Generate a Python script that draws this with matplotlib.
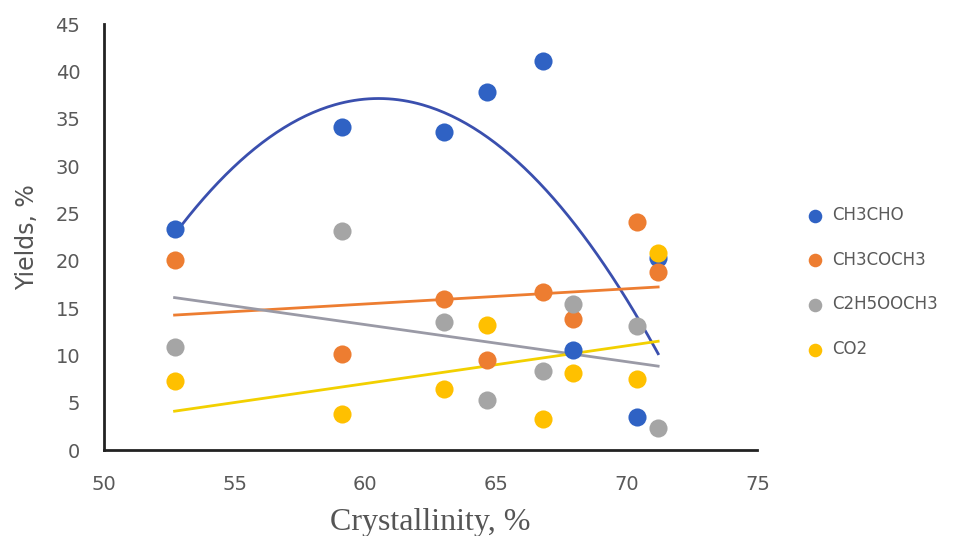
import matplotlib
matplotlib.use("Agg")
import matplotlib.pyplot as plt
import numpy as np

CRYST = [52.7, 59.1, 63.0, 64.65, 66.8, 67.95, 70.4, 71.2]
CH3CHO = [23.4, 34.1, 33.6, 37.8, 41.1, 10.6, 3.5, 20.3]
CH3COCH3 = [20.1, 10.2, 16.0, 9.5, 16.7, 13.9, 24.1, 18.8]
C2H5OOCH3 = [10.9, 23.1, 13.5, 5.3, 8.4, 15.4, 13.1, 2.4]
CO2 = [7.3, 3.8, 6.5, 13.2, 3.3, 8.2, 7.5, 20.8]

SERIES = [
    ("CH3CHO", CH3CHO, "#2f62c4", "#3a4fae", 2),
    ("CH3COCH3", CH3COCH3, "#ed7d31", "#ed7d31", 1),
    ("C2H5OOCH3", C2H5OOCH3, "#a5a5a5", "#9a9aa6", 1),
    ("CO2", CO2, "#ffc000", "#f2d000", 1),
]

fig = plt.figure(figsize=(9.54, 5.36), dpi=100)
ax = fig.add_axes([0.109, 0.160, 0.685, 0.795])

x = np.array(CRYST)
xs = np.linspace(x.min(), x.max(), 200)
for name, vals, color, lcolor, order in SERIES:
    ax.scatter(x, vals, s=170, color=color, label=name, zorder=3, linewidths=0)
    coef = np.polyfit(x, vals, order)
    ax.plot(xs, np.polyval(coef, xs), color=lcolor, lw=2, zorder=2)

ax.set_xlim(50, 75)
ax.set_ylim(0, 45)
ax.set_xticks(np.arange(50, 76, 5))
ax.set_yticks(np.arange(0, 46, 5))
ax.tick_params(length=0, labelsize=14, labelcolor="#595959")
ax.tick_params(axis="x", pad=18)
ax.tick_params(axis="y", pad=17)
for s in ("top", "right"):
    ax.spines[s].set_visible(False)
for s in ("left", "bottom"):
    ax.spines[s].set_linewidth(2)
    ax.spines[s].set_color("#222222")

ax.set_xlabel("Crystallinity, %", fontsize=23, family="Liberation Serif",
              color="#555555", labelpad=10)
ax.set_ylabel("Yields, %", fontsize=17, color="#555555", labelpad=12)

leg = ax.legend(loc="center left", bbox_to_anchor=(1.04, 0.395), frameon=False,
                labelspacing=1.6, handletextpad=0.0, markerscale=0.75,
                prop={"size": 12})
for t in leg.get_texts():
    t.set_color("#595959")

fig.savefig("out.png", dpi=100)
